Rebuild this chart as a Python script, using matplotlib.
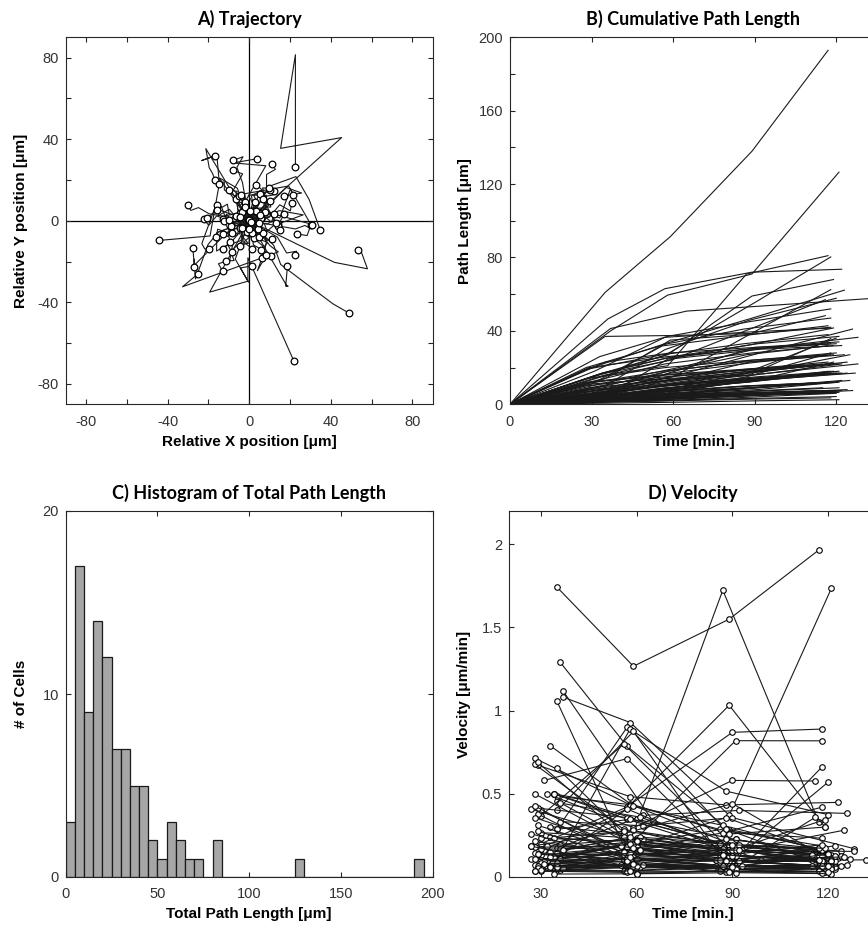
import numpy as np
import matplotlib
matplotlib.use("Agg")
import matplotlib.pyplot as plt

# ---------------- data (one entry per tracked cell) ----------------
# frame times after t=0 [min]
cell_times = [
    [35, 59, 89, 117], [37, 58, 89, 121], [35, 58, 87, 117], [34, 57, 90, 118],
    [36, 57, 89, 122], [35, 58, 89, 119], [29, 58, 88, 123], [30, 60, 91, 118],
    [37, 65, 99, 132], [32, 59, 90, 116], [35, 57, 88, 120], [33, 58, 88, 118],
    [35, 60, 89, 116], [28, 58, 86, 118],
    [36, 58, 89, 119], [35, 59, 87, 118], [30, 56, 88, 117], [31, 57, 89, 118],
    [35, 62, 92, 126],
    [29, 57, 88, 118], [30, 58, 90, 120], [28, 56, 86, 117], [34, 60, 91, 121],
    [36, 62, 90, 128],
    [29, 58, 88, 118], [35, 59, 90, 120], [34, 57, 86, 117], [29, 57, 89, 119],
    [36, 61, 92, 122], [30, 58, 87, 117], [33, 56, 90, 121],
    [28, 57, 88, 118], [27, 56, 86, 116], [35, 58, 89, 120], [31, 59, 91, 119],
    [33, 60, 88, 123], [29, 57, 87, 118], [36, 62, 93, 125],
    [28, 57, 88, 118], [30, 58, 89, 119], [34, 59, 90, 121], [27, 56, 86, 117],
    [32, 60, 91, 120], [35, 57, 87, 118], [29, 58, 90, 122], [36, 61, 92, 124],
    [31, 57, 88, 117], [28, 55, 85, 115], [33, 58, 89, 128], [30, 59, 90, 119],
    [28, 57, 88, 118], [30, 58, 89, 119], [34, 59, 90, 121], [27, 56, 86, 117],
    [32, 60, 91, 120], [35, 57, 87, 118], [29, 58, 90, 122], [36, 61, 92, 124],
    [31, 57, 88, 117], [28, 55, 85, 115], [33, 58, 89, 127], [30, 59, 90, 119],
    [37, 60, 91, 121], [29, 56, 87, 118],
    [28, 57, 88, 118], [30, 58, 89, 119], [34, 59, 90, 121], [27, 56, 86, 117],
    [32, 60, 91, 120], [35, 57, 87, 118], [29, 58, 90, 122], [36, 61, 92, 125],
    [31, 57, 88, 117],
    [28, 57, 88, 118], [30, 58, 89, 119], [34, 59, 90, 121], [27, 56, 86, 117],
    [32, 60, 91, 120], [35, 57, 87, 118], [29, 58, 90, 122], [36, 61, 92, 126],
    [31, 57, 88, 117], [28, 55, 85, 115], [33, 58, 89, 121], [30, 59, 90, 119],
    [37, 60, 91, 121], [29, 56, 87, 118], [35, 62, 93, 124], [28, 57, 90, 120],
    [33, 59, 88, 119],
    [28, 57, 88, 118], [34, 60, 91, 121], [30, 58, 89, 120],
]

# step lengths between frames [um]
cell_steps = [
    [61, 30.4, 46.5, 55], [40, 19.5, 11.5, 55.5], [16, 5, 50, 10], [17, 9.7, 28.7, 24.9],
    [46.5, 16.5, 9, 1.6], [17, 10, 32, 9], [19.5, 14, 13, 15.7], [8, 7, 25.4, 22.1],
    [41.3, 9.5, 3.4, 3.4], [16, 8, 18, 15], [10, 19.8, 16, 12], [26, 11, 8, 7],
    [37, 0.5, 1.1, 9.7], [20, 13, 8, 6],
    [5, 19.6, 8, 9], [14, 21, 3, 4], [11, 20.8, 6, 5], [18, 18.5, 3, 2],
    [6, 10, 12, 13],
    [11, 3, 2, 19.8], [12, 4, 3, 17.1], [19, 8, 6, 5], [17, 9, 7, 4],
    [12, 8, 10, 6.5],
    [20, 6, 4, 3], [23, 5, 3, 2], [17, 8, 5, 3], [12, 10, 6, 4],
    [16, 9, 5, 2], [6, 12, 9, 5], [10, 6, 15, 3],
    [14, 6, 4, 3], [11, 7, 5, 4], [10, 8, 6, 4], [5, 12, 6, 4],
    [8, 5, 10, 4], [3, 4, 8, 13], [7, 6, 5, 9],
    [10, 5, 4, 3], [7, 6, 5, 4], [8, 7, 4, 3], [5, 8, 6, 4],
    [6, 5, 7, 4], [4, 9, 5, 4], [9, 4, 3, 6], [6, 6, 6, 5],
    [3, 5, 9, 5], [12, 4, 3, 3], [5, 6, 5, 6], [4, 4, 5, 10],
    [6, 4, 4, 3], [5, 5, 4, 3], [4, 5, 5, 3], [7, 3, 4, 3],
    [3, 6, 5, 3], [5, 4, 3, 5], [8, 3, 3, 3], [4, 4, 5, 4],
    [3, 3, 7, 5], [5, 5, 3, 4], [4, 5, 4, 4], [2, 5, 6, 5],
    [6, 5, 4, 3], [4, 4, 4, 6],
    [4, 3, 3, 2], [3, 4, 3, 2], [2, 3, 4, 3], [5, 2, 3, 2],
    [3, 3, 2, 4], [3, 2, 4, 3], [4, 3, 2, 4], [2, 4, 3, 4],
    [3, 3, 3, 3],
    [2, 2, 2, 1.5], [2.5, 2, 1.5, 1.5], [1.5, 2, 2, 2], [3, 2, 1, 1.5],
    [2, 1.5, 2, 2], [1.5, 2.5, 2, 1.5], [2, 2, 1.5, 2], [1.5, 1.5, 2, 2.5],
    [2.5, 2.5, 1.5, 1], [3, 2, 2, 2], [2, 3, 2, 2], [1, 2, 2, 1.5],
    [2, 1.5, 1.5, 1.5], [1.5, 1, 2, 2], [2, 2, 2, 2], [1, 1, 2, 2],
    [2, 2, 1, 1],
    [1, 0.8, 1, 0.7], [0.6, 0.5, 0.8, 0.6], [1.2, 1, 1, 1],
]

# step directions [deg]
cell_angles = [
    [42, 190, 81, 270], [241, 16, 90, 294], [310, 323, 200, 40], [110, 150, 260, 185],
    [334, 349, 110, 150], [315, 290, 323, 330], [60, 20, 300, 290], [135, 90, 10, 300],
    [121, 280, 300, 290], [200, 230, 250, 95], [100, 60, 175, 10], [125, 95, 200, 20],
    [300, 0, 180, 85], [250, 300, 120, 10],
    [30, 45, 340, 190], [210, 225, 90, 270], [20, 345, 250, 170], [160, 250, 300, 0],
    [0, 30, 350, 200],
    [270, 180, 90, 100], [45, 90, 180, 300], [100, 110, 60, 200], [200, 270, 30, 220],
    [280, 330, 240, 70],
    [170, 150, 200, 120], [350, 20, 330, 60], [60, 90, 30, 120], [230, 260, 200, 300],
    [330, 300, 10, 250], [90, 130, 60, 160], [20, 340, 70, 300],
    [120, 150, 90, 200], [250, 220, 290, 180], [10, 50, 330, 80], [200, 160, 230, 130],
    [300, 340, 260, 20], [80, 40, 120, 10], [150, 190, 110, 220],
    [45, 80, 10, 120], [190, 230, 160, 260], [280, 320, 250, 350], [60, 100, 30, 140],
    [230, 270, 200, 300], [100, 140, 70, 170], [350, 30, 310, 60], [170, 130, 210, 100],
    [300, 260, 340, 230], [70, 30, 110, 0], [140, 180, 100, 210], [20, 340, 60, 300],
    [30, 70, 0, 100], [210, 250, 180, 280], [100, 140, 60, 170], [310, 350, 280, 20],
    [160, 200, 120, 230], [250, 290, 220, 320], [80, 40, 120, 10], [0, 40, 320, 70],
    [190, 150, 230, 120], [130, 90, 170, 60], [270, 230, 310, 200], [40, 80, 0, 110],
    [220, 180, 260, 150], [330, 10, 290, 40],
    [60, 100, 20, 130], [180, 220, 140, 250], [270, 310, 230, 340], [110, 70, 150, 40],
    [330, 290, 10, 260], [20, 60, 340, 90], [240, 200, 280, 170], [150, 190, 110, 220],
    [300, 340, 260, 10],
    [0, 40, 320, 70], [120, 160, 80, 190], [240, 280, 200, 310], [60, 20, 100, 350],
    [200, 240, 160, 270], [300, 340, 260, 10], [30, 70, 350, 100], [150, 110, 190, 80],
    [270, 310, 230, 340], [90, 130, 50, 160], [180, 140, 220, 110], [330, 10, 290, 40],
    [210, 250, 170, 280], [100, 60, 140, 30], [10, 50, 330, 80], [250, 290, 210, 320],
    [140, 180, 100, 210],
    [45, 180, 270, 90], [200, 60, 330, 120], [300, 90, 210, 0],
]

hist_bin_width = 5  # um

# ---------------- style ----------------
TICK_FONT = "Liberation Sans"
LABEL_FONT = "Liberation Sans"
TITLE_FONT = "Lato"
tick_color = "#333333"
line_color = "#1a1a1a"

plt.rcParams["font.family"] = [TICK_FONT, "DejaVu Sans"]
plt.rcParams["axes.linewidth"] = 0.8
plt.rcParams["axes.edgecolor"] = "#262626"

fig = plt.figure(figsize=(8.68, 9.26), dpi=100)
W, H = 868.0, 926.0

def add_axes(left, top, width, height):
    return fig.add_axes([left / W, 1 - (top + height) / H, width / W, height / H])

axA = add_axes(65.7, 37.3, 367, 367)
axB = add_axes(510, 37.3, 367, 367)
axC = add_axes(65.7, 511, 367, 366)
axD = add_axes(509, 511, 367, 366)

def style(ax, title, xlabel, ylabel):
    ax.set_title(title, fontfamily=TITLE_FONT, fontweight="bold", fontsize=13, pad=9)
    ax.set_xlabel(xlabel, fontfamily=LABEL_FONT, fontweight="bold", fontsize=11)
    ax.set_ylabel(ylabel, fontfamily=LABEL_FONT, fontweight="bold", fontsize=11)
    ax.xaxis.set_label_coords(0.5, -0.102)
    ax.xaxis.label.set_va("center")
    ax.yaxis.set_label_coords(-0.123, 0.5)
    ax.yaxis.label.set_va("center")
    ax.tick_params(direction="in", top=True, right=True, length=3.5, width=0.8,
                   labelsize=10.5, labelcolor=tick_color, color="#262626", pad=5)
    ax.tick_params(axis="x", pad=7.5)

# ---------------- derived quantities ----------------
cells = []
for t, s, a in zip(cell_times, cell_steps, cell_angles):
    s = np.asarray(s, float)
    ang = np.deg2rad(np.asarray(a, float))
    tt = np.r_[0.0, np.asarray(t, float)]
    x = np.r_[0.0, np.cumsum(s * np.cos(ang))]
    y = np.r_[0.0, np.cumsum(s * np.sin(ang))]
    L = np.r_[0.0, np.cumsum(s)]
    v = s / np.diff(tt)
    cells.append(dict(t=tt, x=x, y=y, L=L, v=v))

# ---------------- A) Trajectory ----------------
axA.axhline(0, color="black", lw=0.9, zorder=1)
axA.axvline(0, color="black", lw=0.9, zorder=1)
for c in cells:
    axA.plot(c["x"], c["y"], color=line_color, lw=0.8, zorder=2)
for c in cells:
    axA.plot(c["x"][-1], c["y"][-1], "o", ms=4.8, mfc="white", mec="black", mew=0.9, zorder=3)
axA.set_xlim(-90, 90)
axA.set_ylim(-90, 90)
ticksA = np.arange(-80, 81, 20)
axA.set_xticks(ticksA)
axA.set_yticks(ticksA)
axA.set_xticklabels([str(v) if v % 40 == 0 else "" for v in ticksA])
axA.set_yticklabels([str(v) if v % 40 == 0 else "" for v in ticksA])
style(axA, "A) Trajectory", "Relative X position [\u03bcm]", "Relative Y position [\u03bcm]")

# ---------------- B) Cumulative path length ----------------
for c in cells:
    axB.plot(c["t"], c["L"], color=line_color, lw=0.8)
axB.set_xlim(0, 135)
axB.set_ylim(0, 200)
axB.set_xticks([0, 30, 60, 90, 120])
ticksB = np.arange(0, 201, 20)
axB.set_yticks(ticksB)
axB.set_yticklabels([str(v) if v % 40 == 0 else "" for v in ticksB])
style(axB, "B) Cumulative Path Length", "Time [min.]", "Path Length [\u03bcm]")

# ---------------- C) Histogram ----------------
totals = [c["L"][-1] for c in cells]
bins = np.arange(0, 200 + hist_bin_width, hist_bin_width)
axC.hist(totals, bins=bins, color="#a6a6a6", edgecolor="#1a1a1a", linewidth=0.9)
axC.set_xlim(0, 200)
axC.set_ylim(0, 20)
axC.set_xticks([0, 50, 100, 150, 200])
axC.set_yticks([0, 10, 20])
style(axC, "C) Histogram of Total Path Length", "Total Path Length [\u03bcm]", "# of Cells")

# ---------------- D) Velocity ----------------
for c in cells:
    axD.plot(c["t"][1:], c["v"], color=line_color, lw=0.8, marker="o", ms=4,
             mfc="white", mec="black", mew=0.8)
axD.set_xlim(20, 135)
axD.set_ylim(0, 2.2)
axD.set_xticks([30, 60, 90, 120])
axD.set_yticks([0, 0.5, 1, 1.5, 2])
axD.set_yticklabels(["0", "0.5", "1", "1.5", "2"])
style(axD, "D) Velocity", "Time [min.]", "Velocity [\u03bcm/min]")

fig.savefig("out.png", dpi=100)
